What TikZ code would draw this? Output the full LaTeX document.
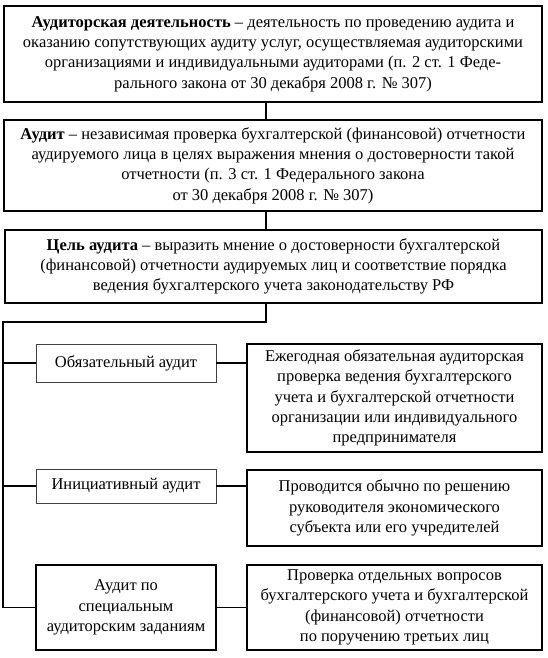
\documentclass[tikz,border=0pt]{standalone}
\usepackage{fontspec}
\setmainfont{Liberation Serif}
\begin{document}
\begin{tikzpicture}[x=1pt,y=-1pt,
  bigbox/.style={draw=black, line width=1.5pt, align=center, inner sep=0pt,
    font=\fontsize{16.5}{20.3}\selectfont},
  thinbox/.style={draw=black!75, line width=0.9pt, align=center, inner sep=0pt,
    font=\fontsize{16.5}{20.3}\selectfont},
  conn/.style={line width=1.5pt}]
\useasboundingbox (0,0) rectangle (548,658);
\node[bigbox, minimum width=538, minimum height=96] (b1) at (273,54)
  {\textbf{Аудиторская деятельность} – деятельность по проведению аудита и\\
   оказанию сопутствующих аудиту услуг, осуществляемая аудиторскими\\
   организациями и индивидуальными аудиторами (п. 2 ст. 1 Феде-\\
   рального закона от 30 декабря 2008 г. № 307)};
\node[bigbox, minimum width=538, minimum height=91] (b2) at (273,165.5)
  {\textbf{Аудит} – независимая проверка бухгалтерской (финансовой) отчетности\\
   аудируемого лица в целях выражения мнения о достоверности такой\\
   отчетности (п. 3 ст. 1 Федерального закона\\
   от 30 декабря 2008 г. № 307)};
\node[bigbox, minimum width=537, minimum height=73] (b3) at (273.5,266.5)
  {\textbf{Цель аудита} – выразить мнение о достоверности бухгалтерской\\
   (финансовой) отчетности аудируемых лиц и соответствие порядка\\
   ведения бухгалтерского учета законодательству РФ};
\node[thinbox, minimum width=180, minimum height=38] (a1) at (126,363)
  {Обязательный аудит};
\node[bigbox, minimum width=295, minimum height=108] (r1) at (394.5,398)
  {Ежегодная обязательная аудиторская\\
   проверка ведения бухгалтерского\\
   учета и бухгалтерской отчетности\\
   организации или индивидуального\\
   предпринимателя};
\node[thinbox, minimum width=180, minimum height=34] (a2) at (126,486)
  {Инициативный аудит};
\node[bigbox, minimum width=295, minimum height=76] (r2) at (394.5,508)
  {Проводится обычно по решению\\
   руководителя экономического\\
   субъекта или его учредителей};
\node[bigbox, minimum width=180, minimum height=85] (a3) at (126,607.5)
  {Аудит по\\ специальным\\ аудиторским заданиям};
\node[bigbox, minimum width=295, minimum height=85] (r3) at (394.5,607.5)
  {Проверка отдельных вопросов\\
   бухгалтерского учета и бухгалтерской\\
   (финансовой) отчетности\\
   по поручению третьих лиц};
\coordinate (t1) at (266,322);
\coordinate (t2) at (3,322);
\draw[conn] (b1.south -| t1) -- (b2.north -| t1);
\draw[conn] (b2.south -| t1) -- (b3.north -| t1);
\draw[conn] (b3.south -| t1) -- (t1) -- (t2) |- (a3.west);
\draw[conn] (a1.west) -- (a1.west -| t2);
\draw[conn] (a2.west) -- (a2.west -| t2);
\draw[conn] (a1.east) -- (r1.west |- a1.east);
\draw[conn] (a2.east) -- (r2.west |- a2.east);
\draw[conn] (a3.east) -- (r3.west |- a3.east);
\end{tikzpicture}
\end{document}
